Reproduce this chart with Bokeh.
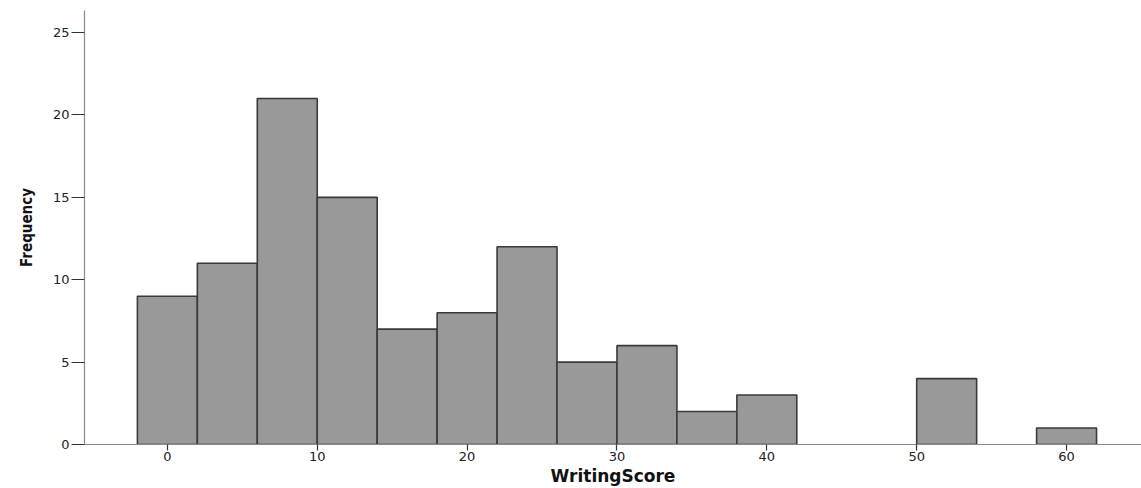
from bokeh.plotting import figure
from bokeh.models import ColumnDataSource, FixedTicker, Range1d
from bokeh.embed import file_html
from bokeh.resources import INLINE

# Histogram data (bin width 4, centered on multiples of 4)
bin_centers = [0, 4, 8, 12, 16, 20, 24, 28, 32, 36, 40, 44, 48, 52, 56, 60]
counts = [9, 11, 21, 15, 7, 8, 12, 5, 6, 2, 3, 0, 0, 4, 0, 1]
bin_width = 4
x_ticks = [0, 10, 20, 30, 40, 50, 60]
y_ticks = [0, 5, 10, 15, 20, 25]

lefts, rights, tops = [], [], []
for c, n in zip(bin_centers, counts):
    if n > 0:
        lefts.append(c - bin_width / 2)
        rights.append(c + bin_width / 2)
        tops.append(n)
src = ColumnDataSource(dict(left=lefts, right=rights, top=tops, bottom=[0] * len(tops)))

p = figure(width=1141, height=488, output_backend="svg", toolbar_location=None,
           x_range=Range1d(-5.53, 65.0), y_range=Range1d(0, 26.34),
           min_border_left=84, min_border_right=0, min_border_top=10, min_border_bottom=0)
p.outline_line_color = None
p.xgrid.grid_line_color = None
p.ygrid.grid_line_color = None
p.background_fill_color = "white"

p.quad(left="left", right="right", top="top", bottom="bottom", source=src,
       fill_color="#999999", line_color="#3a3a3a", line_width=1.6)

for ax in (p.xaxis[0], p.yaxis[0]):
    ax.axis_line_color = "#8a8a8a"
    ax.axis_line_width = 1.2
    ax.major_tick_line_color = "#333333"
    ax.major_tick_line_width = 1.2
    ax.major_tick_in = 0
    ax.minor_tick_line_color = None
    ax.major_label_text_font = "DejaVu Sans"
    ax.major_label_text_font_size = "13px"
    ax.major_label_text_color = "#222222"

p.xaxis.ticker = FixedTicker(ticks=x_ticks)
p.yaxis.ticker = FixedTicker(ticks=y_ticks)
p.xaxis.major_tick_out = 6
p.yaxis.major_tick_out = 13
p.xaxis.major_label_standoff = 1
p.yaxis.major_label_standoff = 2

p.xaxis.axis_label = "WritingScore"
p.xaxis.axis_label_text_font = "DejaVu Sans"
p.xaxis.axis_label_text_font_style = "bold"
p.xaxis.axis_label_text_font_size = "17px"
p.xaxis.axis_label_text_color = "#111111"
p.xaxis.axis_label_standoff = 2

p.yaxis.axis_label = "Frequency"
p.yaxis.axis_label_text_font = "DejaVu Sans Condensed"
p.yaxis.axis_label_text_font_style = "bold"
p.yaxis.axis_label_text_font_size = "15px"
p.yaxis.axis_label_text_color = "#111111"
p.yaxis.axis_label_standoff = 14

open("out.html", "w").write(file_html(p, INLINE))
